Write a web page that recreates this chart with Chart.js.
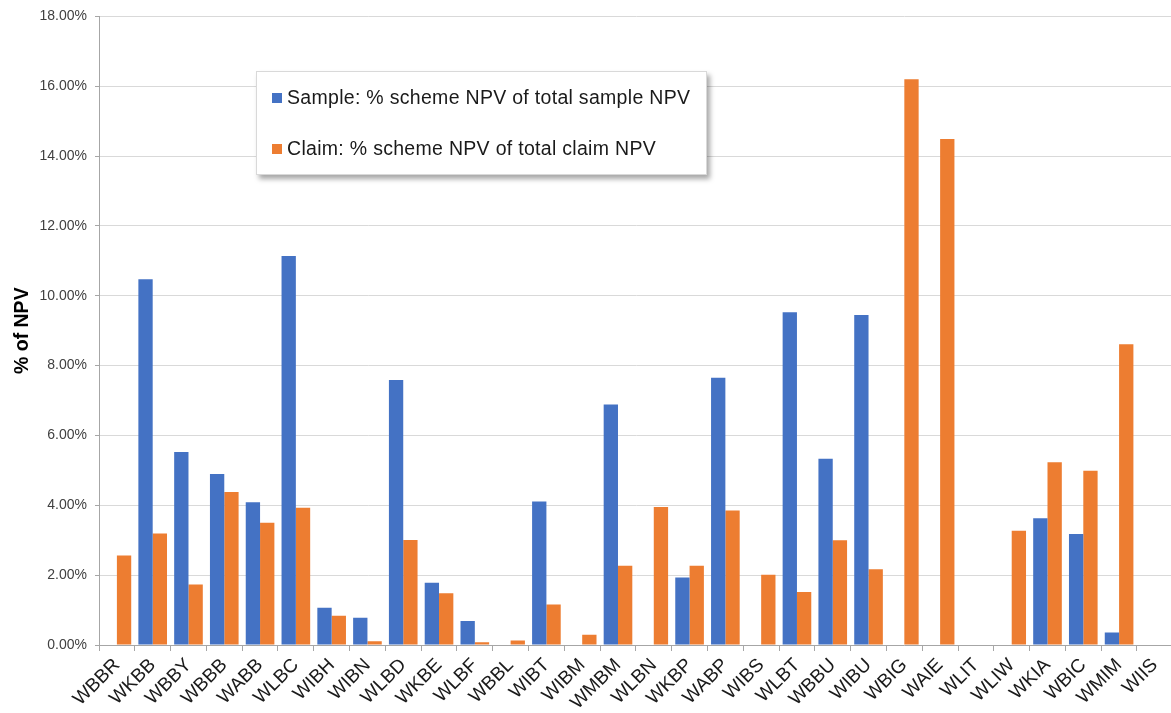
<!DOCTYPE html>
<html>
<head>
<meta charset="utf-8">
<script src="https://cdn.jsdelivr.net/npm/chart.js@4"></script>
<style>
  html, body { margin: 0; padding: 0; background: #fff; overflow: hidden; }
  #wrap { position: relative; width: 1174px; height: 713px; }
  #legend {
    position: absolute; left: 256px; top: 71px; width: 449px; height: 102px;
    background: #fff; border: 1px solid #d9d9d9;
    box-shadow: 3px 4px 5px rgba(0,0,0,0.35);
    font-family: "Liberation Sans", Arial, sans-serif; font-size: 19.5px; color: #1a1a1a;
    letter-spacing: 0.3px;
  }
  #legend .item { position: absolute; left: 15px; display: flex; align-items: center; white-space: nowrap; }
  #legend .box { width: 10px; height: 10px; margin-right: 5px; }
</style>
</head>
<body>
<div id="wrap">
  <canvas id="myChart" width="1174" height="713"></canvas>
  <div id="legend"></div>
</div>
<script>
// scheme codes
const schemes = ['WBBR','WKBB','WBBY','WBBB','WABB','WLBC','WIBH','WIBN','WLBD','WKBE',
  'WLBF','WBBL','WIBT','WIBM','WMBM','WLBN','WKBP','WABP','WIBS','WLBT',
  'WBBU','WIBU','WBIG','WAIE','WLIT','WLIW','WKIA','WBIC','WMIM','WIIS'];

// % of NPV
const sampleNpv = [0, 10.47, 5.53, 4.90, 4.09, 11.14, 1.07, 0.78, 7.59, 1.78,
  0.69, 0, 4.11, 0, 6.89, 0, 1.93, 7.65, 0, 9.53,
  5.33, 9.45, 0, 0, 0, 0, 3.63, 3.18, 0.36, 0];
const claimNpv = [2.56, 3.19, 1.73, 4.38, 3.50, 3.93, 0.84, 0.11, 3.01, 1.48,
  0.08, 0.13, 1.16, 0.29, 2.27, 3.95, 2.27, 3.85, 2.01, 1.52,
  3.00, 2.17, 16.20, 14.49, 0, 3.27, 5.23, 4.99, 8.61, 0];

const yTicks = [0, 2, 4, 6, 8, 10, 12, 14, 16, 18];

const ctx = document.getElementById('myChart').getContext('2d');
const myChart = new Chart(ctx, {
  type: 'bar',
  data: {
    labels: schemes,
    datasets: [{
      label: 'Sample: % scheme NPV of total sample NPV',
      backgroundColor: '#4472C4',
      data: sampleNpv
    }, {
      label: 'Claim: % scheme NPV of total claim NPV',
      backgroundColor: '#ED7D31',
      data: claimNpv
    }]
  },
  options: {
    responsive: false,
    animation: false,
    layout: { padding: { top: 15, left: 0, right: 0, bottom: 0 } },
    datasets: { bar: { categoryPercentage: 0.8, barPercentage: 1.0 } },
    plugins: { legend: { display: false }, tooltip: { enabled: false } },
    scales: {
      x: {
        afterFit: (s) => { s.height = 68; },
        border: { color: '#a6a6a6', width: 1 },
        grid: { drawOnChartArea: false, drawTicks: true, tickLength: 6, tickColor: '#a6a6a6', offset: true },
        ticks: {
          minRotation: 45, maxRotation: 45, autoSkip: false, padding: 3,
          color: '#1a1a1a',
          font: { family: '"Liberation Sans", Arial, sans-serif', size: 19 }
        }
      },
      y: {
        min: 0, max: 18,
        afterFit: (s) => { s.width = 99; },
        afterBuildTicks: (s) => { s.ticks = yTicks.map(v => ({ value: v })); },
        border: { color: '#a6a6a6', width: 1 },
        grid: { color: '#d9d9d9', tickColor: '#a6a6a6', tickLength: 4 },
        ticks: {
          padding: 8, color: '#404040',
          font: { family: '"Liberation Sans", Arial, sans-serif', size: 14 },
          callback: (v) => v.toFixed(2) + '%'
        },
        title: {
          display: true, text: '% of NPV', color: '#000',
          padding: { top: 11, bottom: 0 },
          font: { family: '"Liberation Sans", Arial, sans-serif', size: 19.5, weight: 'bold' }
        }
      }
    }
  }
});

// legend box placed inside the plot, like the original
const legend = document.getElementById('legend');
const legendTops = [14, 65];
myChart.data.datasets.forEach((d, i) => {
  const item = document.createElement('div');
  item.className = 'item';
  item.style.top = legendTops[i] + 'px';
  item.innerHTML = '<span class="box" style="background:' + d.backgroundColor + '"></span><span>' + d.label + '</span>';
  legend.appendChild(item);
});
</script>
</body>
</html>
